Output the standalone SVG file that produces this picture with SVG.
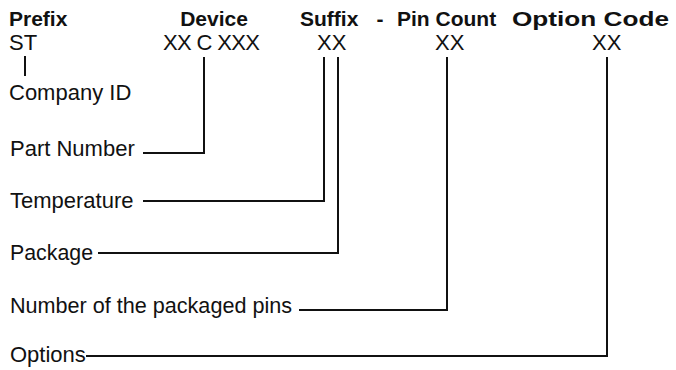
<svg xmlns="http://www.w3.org/2000/svg" width="676" height="370" viewBox="0 0 676 370">
<style>
text{font-family:"Liberation Sans",Arial,sans-serif;font-size:22px;fill:#111}
.h{font-weight:bold;font-size:21px}
.c{fill:none;stroke:#111;stroke-width:2;stroke-linejoin:miter}
</style>
<rect width="676" height="370" fill="#fff"/>
<g id="header">
<text class="h" x="9" y="26">Prefix</text>
<text class="h" x="214" y="26" text-anchor="middle">Device</text>
<text class="h" x="300" y="26">Suffix</text>
<text class="h" x="380" y="26" text-anchor="middle">-</text>
<text class="h" x="397" y="26">Pin Count</text>
<text class="h" x="512" y="26" textLength="157" lengthAdjust="spacingAndGlyphs">Option Code</text>
</g>
<g id="codes">
<text x="9" y="50">ST</text>
<text x="163" y="50" textLength="97" lengthAdjust="spacing">XX C XXX</text>
<text x="317" y="50">XX</text>
<text x="435" y="50">XX</text>
<text x="592" y="50">XX</text>
</g>
<g id="company"><text x="9" y="100">Company ID</text></g>
<g id="part"><text x="10" y="156">Part Number</text></g>
<g id="temp"><text x="10" y="208">Temperature</text></g>
<g id="package"><text x="10" y="260" textLength="83" lengthAdjust="spacingAndGlyphs">Package</text></g>
<g id="pins"><text x="10" y="313" textLength="282" lengthAdjust="spacingAndGlyphs">Number of the packaged pins</text></g>
<g id="options"><text x="10" y="362">Options</text></g>
<g id="connectors">
<line class="c" x1="25" y1="56" x2="25" y2="76"/>
<polyline class="c" points="143,153 204,153 204,57"/>
<polyline class="c" points="143,201 324,201 324,57"/>
<polyline class="c" points="98,253 338,253 338,57"/>
<polyline class="c" points="299,310 447,310 447,57"/>
<polyline class="c" points="86,356 607,356 607,57"/>
</g>
</svg>
